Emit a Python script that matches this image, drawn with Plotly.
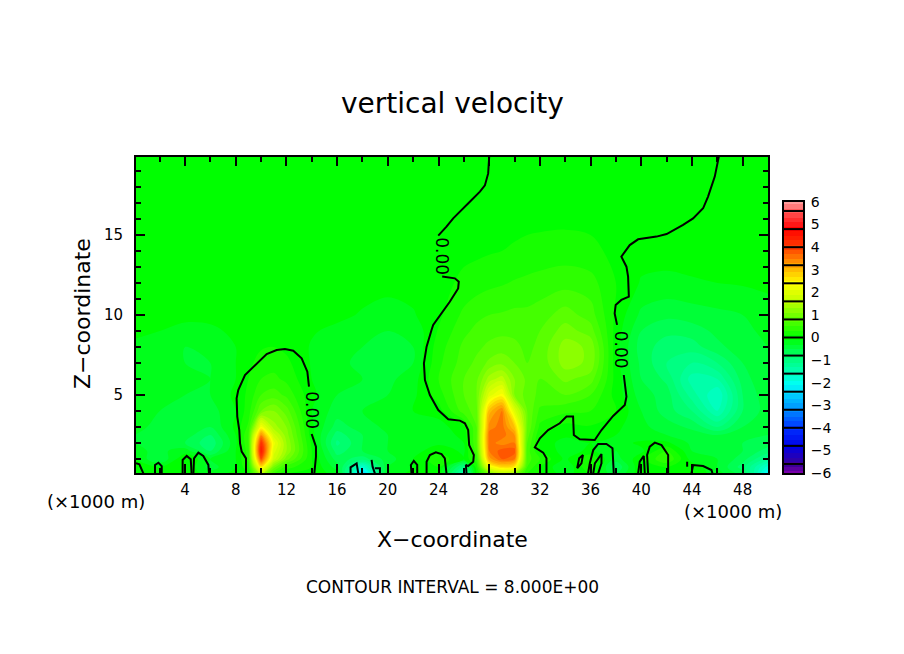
"""Vertical velocity cross-section, x-z plane, with the zero contour marked."""

import numpy as np
import plotly.graph_objects as go

W, H = 904, 654
FONT = "DejaVu Sans"

# grid (km)
x_km = [0, 2, 4, 6, 8, 9, 10, 11, 12, 14, 16, 18, 20, 22, 24, 26, 27, 28, 29, 30, 31,
        32, 34, 36, 38, 40, 42, 44, 46, 48, 50]
z_km = [0.1, 0.5, 1, 1.5, 2, 2.5, 3, 4, 5, 6, 7, 8, 9, 10, 12, 14, 16, 20]

w_z01 = [.05, .02, .03, -.2, -.05, .1, 1.5, .5, .1, .05, -.2, -2.5, -.2, -.05, .05, -1.5, .1, 1.0, 1.5, 1.2, .3,
         .1, -.2, .1, -.5, .05, .05, .05, -.2, -.6, -2.2]
w_z05 = [-.05, -.1, .1, -.4, -.1, .25, 2.6, 1.0, .4, .1, -.4, -1.8, -.3, -.1, .1, -1.0, .2, 2.2, 2.7, 2.5, .5,
         .1, -.3, .3, -.7, .1, .1, .05, -.3, -.8, -1.8]
w_z10 = [-.1, -.5, .1, -.3, -.1, .35, 3.9, 1.8, 1.0, .1, -.6, -.8, -.4, -.1, .25, -.1, .4, 3.2, 3.7, 3.5, .6,
         .3, -.15, .3, -.4, .05, .5, -.2, -.3, -.6, -1.2]
w_z15 = [-.25, -.35, -.2, -.7, -.1, .4, 4.5, 2.0, 1.3, .1, -.8, -.5, -.3, -.2, .05, -.15, .6, 3.5, 3.8, 3.8, .6,
         .1, -.2, -.05, -.3, -.15, .3, -.3, -.3, -.5, -.8]
w_z20 = [-.3, -.4, -.5, -.85, -.15, .5, 4.2, 2.2, 1.3, .05, -.95, -.5, -.3, -.25, -.15, -.1, .7, 3.6, 3.4, 3.5, .7,
         .05, -.2, -.1, -.2, -.05, -.05, -.35, -.4, -.5, -.6]
w_z25 = [-.3, -.4, -.4, -.7, -.1, .5, 3.4, 1.8, 1.2, -.02, -.8, -.5, -.3, -.15, -.2, -.05, .7, 3.6, 3.6, 3.3, .8,
         .12, -.05, -.02, -.1, -.25, -.3, -.4, -.5, -.4, -.5]
w_z30 = [-.25, -.35, -.4, -.5, -.05, .35, 2.3, 1.4, 1.1, -.05, -.6, -.4, -.25, -.15, -.2, .05, .7, 3.4, 3.6, 2.9, .9,
         .25, .03, .08, -.05, -.25, -.4, -.55, -.9, -.5, -.4]
w_z40 = [-.2, -.3, -.35, -.4, -.1, .2, .9, 1.1, .8, -.1, -.4, -.3, -.25, -.1, .0, .6, .8, 3.0, 3.5, 2.0, .9,
         .45, .35, .3, .1, -.3, -.6, -.9, -1.5, -.7, -.4]
w_z50 = [-.15, -.25, -.3, -.3, -.05, .15, .5, .6, .45, -.05, -.3, -.3, -.3, -.15, .2, .7, .9, 2.0, 2.4, 1.1, .8,
         .65, .7, .5, .02, -.4, -.6, -1.2, -1.7, -.7, -.35]
w_z60 = [-.12, -.2, -.25, -.3, -.1, .1, .3, .35, .25, -.1, -.25, -.3, -.35, -.2, .3, .7, .85, 1.4, 1.6, 1.1, .85,
         .7, .95, .8, .02, -.5, -.75, -1.4, -1.3, -.6, -.3]
w_z70 = [-.15, -.25, -.3, -.3, -.1, .05, .18, .22, .15, -.12, -.25, -.35, -.4, -.3, .25, .6, .75, .95, 1.05, .9, .7,
         .75, 1.2, 1.05, -.02, -.55, -.9, -1.1, -.9, -.5, -.3]
w_z80 = [-.12, -.2, -.3, -.25, -.1, .02, .08, .1, .05, -.12, -.22, -.3, -.4, -.3, .2, .55, .65, .75, .8, .75, .65,
         .75, 1.2, 1.05, -.02, -.6, -.8, -.8, -.55, -.4, -.3]
w_z90 = [-.08, -.1, -.18, -.15, -.05, .0, .05, .05, .03, -.08, -.15, -.25, -.3, -.25, .12, .45, .55, .62, .65, .65, .65,
         .7, 1.0, .8, .02, -.5, -.65, -.6, -.45, -.35, -.25]
w_z100 = [-.05, -.05, -.03, -.03, -.03, -.02, -.02, -.02, -.02, -.03, -.05, -.12, -.2, -.12, .05, .35, .45, .5, .52, .55, .55,
          .6, .8, .6, .05, -.35, -.45, -.4, -.35, -.3, -.2]
w_z120 = [-.02, -.02, -.02, -.02, -.02, -.02, -.02, -.02, -.02, -.02, -.02, -.02, -.02, -.02, .02, .15, .2, .25, .28, .32, .35,
          .38, .42, .38, .1, -.12, -.15, -.12, -.1, -.08, -.05]
w_z140 = [.02, .02, .02, .02, .02, .02, .02, .02, .02, .02, .02, .02, .02, .02, .02, .05, .06, .08, .1, .12, .15,
          .17, .2, .15, .05, -.02, -.02, -.02, -.02, -.02, -.02]
w_z160 = [.02, .02, .02, .02, .02, .02, .02, .02, .02, .02, .02, .02, .02, .02, .03, .05, .05, .05, .05, .05, .05,
          .05, .05, .05, .03, -.02, -.02, -.02, -.02, -.02, -.02]
w_z200 = [.02] * 31

# zero contour pieces as (x, z) pairs in km
zero_bubble_top = [(8.81, .1), (8.81, 1.04), (8.47, 1.46), (8.34, 1.98), (8.28, 2.81), (8.12, 3.65), (8.07, 4.79),
                   (8.2, 5.31), (8.73, 6.25), (9.65, 6.98), (10.44, 7.56), (11.23, 7.81), (11.88, 7.88),
                   (12.54, 7.77), (13.2, 7.29), (13.65, 6.46), (13.78, 5.52)]
zero_bubble_low = [(13.99, 2.56), (14.33, 1.77), (14.33, 1.14), (14.2, .1)]
zero_west_top = [(28.0, 19.9), (27.92, 18.85), (27.66, 18.1), (27.27, 17.71), (26.61, 17.19), (25.95, 16.67),
                 (25.16, 16.04), (24.63, 15.52), (23.98, 14.96)]
zero_west_low = [(24.29, 12.4), (25.29, 12.29), (25.6, 12.08), (25.55, 11.66), (24.89, 10.83), (24.11, 10.0),
                 (23.58, 9.38), (23.45, 9.06), (23.27, 8.54), (23.06, 8.02), (22.85, 6.98), (22.93, 5.94),
                 (23.32, 5.0), (23.98, 4.06), (24.77, 3.48), (25.69, 3.4), (26.08, 3.23), (26.34, 2.81),
                 (26.42, 1.87), (26.79, 1.25), (26.74, .83), (26.34, .56), (26.16, .63), (26.21, .1)]
zero_east_low = [(32.52, .1), (32.52, 1.04), (32.26, 1.4), (31.6, 1.73), (32.0, 2.29), (32.65, 2.81), (33.57, 3.23),
                 (34.1, 3.65), (34.62, 3.65), (34.68, 2.5), (35.15, 2.23), (36.33, 2.19), (36.86, 2.81),
                 (37.78, 3.69), (38.7, 4.38), (38.83, 4.9), (38.62, 6.25)]
zero_east_top = [(38.09, 9.38), (37.9, 10.1), (37.98, 10.63), (38.43, 10.94), (39.02, 11.15), (38.96, 12.4),
                 (38.83, 13.02), (38.43, 13.65), (39.09, 14.37), (39.75, 14.73), (41.2, 14.9), (42.0, 15.06),
                 (43.3, 15.63), (44.09, 16.04), (44.88, 16.67), (45.27, 17.4), (45.8, 18.65), (46.12, 19.9)]
zero_cells = [
    [(.13, .73), (.4, .67), (.71, .1)],
    [(1.63, .1), (1.63, .63), (1.9, .77), (2.16, .56), (2.16, .1)],
    [(3.81, .1), (3.81, .94), (4.13, 1.19), (4.45, .98), (4.52, .1)],
    [(4.66, .1), (4.71, 1.04), (5.05, 1.4), (5.44, 1.19), (5.84, .63), (5.89, .1)],
    [(17.06, .1), (17.06, .48), (17.54, .73), (17.67, .1)],
    [(18.72, .94), (18.8, .52), (18.98, .1)],
    [(18.98, .42), (19.38, .42), (19.38, .1)],
    [(21.87, .1), (21.82, .63), (22.05, .88), (22.32, .63), (22.32, .1)],
    [(23.06, .1), (23.06, .83), (23.32, 1.25), (23.79, 1.42), (24.24, 1.31), (24.5, 1.04), (24.63, .1)],
    [(34.94, .42), (35.1, 1.04), (35.4, 1.25), (35.28, .73), (34.94, .42)],
    [(35.8, .1), (35.94, .73), (36.21, 1.56), (36.6, 1.94), (37.25, 1.94), (37.73, 1.67), (37.83, .1)],
    [(36.21, .1), (36.34, .73), (36.86, 1.31), (36.86, .73), (36.6, .1)],
    [(39.75, .1), (39.88, .84), (40.2, 1.19), (40.28, .1)],
    [(40.54, .1), (40.46, 1.25), (40.67, 1.77), (41.07, 2.02), (41.6, 1.87), (42.12, 1.25), (42.12, .1)],
    [(43.62, .83), (43.62, .52)],
    [(43.96, .1), (44.09, .62), (44.88, .56), (45.54, .31), (45.62, .1)],
]

# "0.00" contour labels
label_x = [14.0, 24.25, 38.4]
label_z = [4.06, 13.69, 7.83]

# colour table
colour_levels = [-6, -5.6, -4.8, -4, -3.2, -2.4, -2, -1.6, -.8, 0, .8, 1.6, 2.4, 3.2, 4, 4.8, 5.6, 6]
colour_values = ["rgb(120,0,170)", "rgb(60,0,150)", "rgb(0,0,230)", "rgb(0,50,255)", "rgb(0,140,255)",
                 "rgb(0,220,255)", "rgb(0,255,240)", "rgb(0,255,190)", "rgb(0,255,110)", "rgb(0,255,0)",
                 "rgb(90,255,0)", "rgb(190,255,0)", "rgb(255,255,0)", "rgb(255,165,0)", "rgb(255,60,0)",
                 "rgb(255,0,0)", "rgb(255,90,90)", "rgb(255,155,155)"]
legend_ticks = [-6, -5, -4, -3, -2, -1, 0, 1, 2, 3, 4, 5, 6]
legend_breaks = [-5.6, -4.8, -4, -3.2, -2.4, -1.6, -.8, 0, .8, 1.6, 2.4, 3.2, 4, 4.8, 5.6]
shade_step = 0.2


def px_x(px):
    return px / W


def px_y(py):
    return 1 - py / H


def join_segments(segments):
    xs, zs = [], []
    for seg in segments:
        xs += [p[0] for p in seg] + [None]
        zs += [p[1] for p in seg] + [None]
    return xs, zs


field = np.array([w_z01, w_z05, w_z10, w_z15, w_z20, w_z25, w_z30, w_z40, w_z50, w_z60, w_z70, w_z80, w_z90,
                  w_z100, w_z120, w_z140, w_z160, w_z200])
scale = [[(v + 6) / 12, c] for v, c in zip(colour_levels, colour_values)]

fig = go.Figure()
fig.add_trace(go.Contour(
    x=x_km, y=z_km, z=field, zmin=-6, zmax=6, colorscale=scale, showscale=False,
    contours=dict(coloring="fill", start=-6.1, end=6.1, size=shade_step, showlines=False),
    line=dict(width=0, smoothing=1.0), hoverinfo="skip",
))

line_x, line_z = join_segments(
    [zero_bubble_top, zero_bubble_low, zero_west_top, zero_west_low, zero_east_low, zero_east_top] + zero_cells
)
fig.add_trace(go.Scatter(x=line_x, y=line_z, mode="lines", line=dict(color="black", width=2), hoverinfo="skip"))

# legend strip: its own little axes, black rules between the boxes
band_edges = np.arange(-6.1, 6.2, shade_step)
band_mid = (band_edges[:-1] + band_edges[1:]) / 2
fig.add_trace(go.Heatmap(
    x=[0, 1], y=band_edges, z=[[v] for v in band_mid], zmin=-6, zmax=6, colorscale=scale,
    showscale=False, xaxis="x2", yaxis="y2", hoverinfo="skip",
))
for b in legend_breaks:
    fig.add_shape(type="line", xref="x2", yref="y2", x0=0, x1=1, y0=b, y1=b, line=dict(color="black", width=2))

axis_style = dict(showgrid=False, zeroline=False, showline=True, linecolor="black", linewidth=2, mirror="ticks",
                  automargin=False, layer="above traces", ticks="inside", tickcolor="black", tickwidth=2, ticklen=9,
                  tickfont=dict(family=FONT, size=15, color="black"))

annotations = [
    dict(text="vertical velocity", x=px_x(452), y=px_y(104), size=28, angle=0),
    dict(text="X\u2212coordinate", x=px_x(452), y=px_y(539), size=22, angle=0),
    dict(text="Z\u2212coordinate", x=px_x(83), y=px_y(314), size=22, angle=-90),
    dict(text="(\u00d71000 m)", x=px_x(96), y=px_y(501), size=18, angle=0),
    dict(text="(\u00d71000 m)", x=px_x(733), y=px_y(511), size=18, angle=0),
    dict(text="CONTOUR INTERVAL = 8.000E+00", x=px_x(452), y=px_y(587), size=17, angle=0),
]
ann = [dict(text=a["text"], xref="paper", yref="paper", x=a["x"], y=a["y"], textangle=a["angle"], showarrow=False,
            xanchor="center", yanchor="middle", font=dict(family=FONT, size=a["size"], color="black"))
       for a in annotations]
for lx, lz in zip(label_x, label_z):
    ann.append(dict(text="0.00", xref="x", yref="y", x=lx, y=lz, textangle=90, showarrow=False,
                    font=dict(family=FONT, size=17, color="black")))

fig.update_layout(
    template="none", width=W, height=H, margin=dict(l=0, r=0, t=0, b=0), paper_bgcolor="white", plot_bgcolor="white",
    showlegend=False, annotations=ann,
    xaxis=dict(domain=[px_x(136), px_x(768)], range=[0.13, 50], tick0=0, dtick=4, ticklabelstandoff=2,
               minor=dict(ticks="inside", dtick=2, ticklen=5, tickcolor="black", tickwidth=1.5), **axis_style),
    yaxis=dict(domain=[px_y(473), px_y(157)], range=[0.125, 19.875], tick0=0, dtick=5, ticklabelstandoff=8,
               minor=dict(ticks="inside", dtick=1, ticklen=5, tickcolor="black", tickwidth=1.5), **axis_style),
    xaxis2=dict(domain=[px_x(784), px_x(803)], range=[0, 1], anchor="y2", showticklabels=False, ticks="",
                automargin=False, showgrid=False, zeroline=False, showline=True, linecolor="black", linewidth=2,
                mirror=True),
    yaxis2=dict(domain=[px_y(473), px_y(202)], range=[-6, 6], anchor="x2", side="right", tickvals=legend_ticks,
                automargin=False, ticks="", showgrid=False, zeroline=False, showline=True, linecolor="black",
                linewidth=2, mirror=True, ticklabelstandoff=3, tickfont=dict(family=FONT, size=14, color="black")),
)

fig.write_html("out.html", config=dict(displayModeBar=False),
               post_script="document.body.style.margin='0';document.body.style.overflow='hidden';")
